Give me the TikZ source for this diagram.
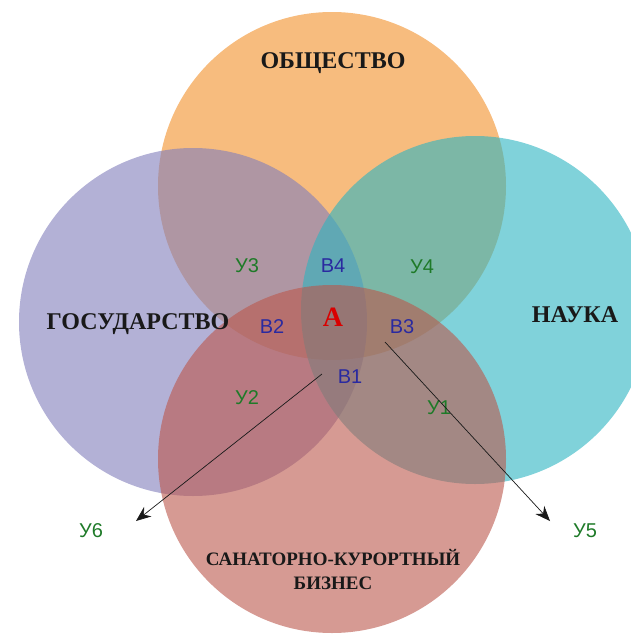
\documentclass[tikz,border=0pt]{standalone}
\usepackage{fontspec}
\setmainfont{Liberation Serif}
\setsansfont{Liberation Sans}
\usetikzlibrary{arrows.meta}
\definecolor{socorange}{HTML}{F28F28}
\definecolor{govpurple}{HTML}{807DBB}
\definecolor{scicyan}{HTML}{2BB4C1}
\definecolor{bizred}{HTML}{BB574B}
\definecolor{ygreen}{HTML}{1E7A28}
\definecolor{bblue}{HTML}{2A2AA0}
\begin{document}
\begin{tikzpicture}[x=1pt, y=-1pt,
        ring/.style={circle, minimum size=348pt, inner sep=0pt, fill opacity=0.6},
        title/.style={font=\bfseries\fontsize{24}{26}\selectfont, align=center, text=black!90},
        zone/.style={font=\sffamily\fontsize{20}{22}\selectfont},
        ylab/.style={zone, text=ygreen},
        blab/.style={zone, text=bblue}]
        \useasboundingbox (0,0) rectangle (631,640);
        \node[ring, fill=socorange] (soc) at (332,186) {};
        \node[ring, fill=govpurple] (gov) at (193,322) {};
        \node[ring, fill=scicyan] (sci) at (475,310) {};
        \node[ring, fill=bizred] (biz) at (332,459) {};

        \node[title] (tsoc) at (333,63) {ОБЩЕСТВО};
        \node[title] (tgov) at (138,324) {ГОСУДАРСТВО};
        \node[title] (tsci) at (575,315) {НАУКА};
        \node[title, font=\bfseries\fontsize{19}{24}\selectfont] (tbiz) at (333,569) {САНАТОРНО-КУРОРТНЫЙ\\БИЗНЕС};

        \node[font=\bfseries\fontsize{28}{30}\selectfont, text=red!85!black] (a) at (333,317) {А};
        \node[blab] (b4) at (333,266) {В4};
        \node[blab] (b2) at (272,327) {В2};
        \node[blab] (b3) at (402,327) {В3};
        \node[blab] (b1) at (350,377) {В1};
        \node[ylab] (y3) at (247,266) {У3};
        \node[ylab] (y4) at (422,267) {У4};
        \node[ylab] (y2) at (247,398) {У2};
        \node[ylab] (y1) at (439,408) {У1};
        \node[ylab] (y6) at (91,531) {У6};
        \node[ylab] (y5) at (585,531) {У5};

        \coordinate (s6) at (322,374);
        \coordinate (e6) at (136,521);
        \coordinate (s5) at (385,342);
        \coordinate (e5) at (550,521);
        \draw[-{Stealth[length=15pt, width=12pt]}, black!90, line width=0.7pt] (s6) -- (e6);
        \draw[-{Stealth[length=15pt, width=12pt]}, black!90, line width=0.7pt] (s5) -- (e5);
    \end{tikzpicture}
\end{document}
